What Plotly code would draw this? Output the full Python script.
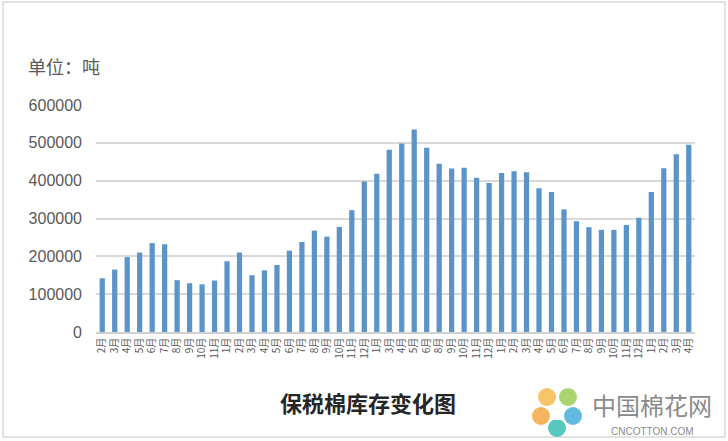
import plotly.graph_objects as go

months = ["2","3","4","5","6","7","8","9","10","11",
          "1","2","3","4","5","6","7","8","9","10","11","12",
          "1","3","4","5","6","8","9","10","11","12",
          "1","2","3","4","5","6","7","8","9","10","11","12",
          "1","2","3","4"]
tick_labels = [m + "月" for m in months]
stock = [142000, 165000, 198000, 210000, 235000, 232000, 137000, 129000, 126000, 136000,
         187000, 210000, 150000, 163000, 177000, 215000, 238000, 268000, 252000, 278000,
         322000, 398000, 418000, 482000, 498000, 535000, 487000, 445000, 432000, 434000,
         408000, 394000, 420000, 425000, 422000, 380000, 370000, 324000, 293000, 277000,
         270000, 270000, 283000, 302000, 370000, 433000, 470000, 495000]
y_ticks = [0, 100000, 200000, 300000, 400000, 500000, 600000]
unit_text = "单位：吨"
title_text = "保税棉库存变化图"

W, H = 728, 441
L, R, T, B = 96, 33, 105, 109
PW, PH = W - L - R, H - T - B

def px(x):
    return (x - L) / PW

def py(y):
    return (H - y - B) / PH

idx = list(range(len(stock)))

fig = go.Figure(go.Bar(
    x=idx, y=stock,
    marker=dict(color="#5b94c8", line=dict(width=0)),
    width=0.42,
    hoverinfo="skip",
))

gray = "#595959"
fig.update_layout(
    width=W, height=H,
    margin=dict(l=L, r=R, t=T, b=B),
    paper_bgcolor="white", plot_bgcolor="white",
    showlegend=False,
    font=dict(family="Liberation Sans, Arial, sans-serif", color=gray),
    xaxis=dict(
        range=[-0.5, len(stock) - 0.5],
        tickmode="array", tickvals=idx, ticktext=tick_labels,
        tickangle=-90,
        tickfont=dict(size=10, color=gray, family="Noto Sans CJK SC"),
        showgrid=False, zeroline=False,
        showline=True, linecolor="#d0d0d0", linewidth=1.5,
        ticks="", fixedrange=True,
    ),
    yaxis=dict(
        range=[0, 600000],
        tickmode="array", tickvals=y_ticks, ticktext=[str(v) for v in y_ticks],
        tickfont=dict(size=16, color=gray),
        showgrid=True, gridcolor="#d9d9d9", gridwidth=1.5,
        zeroline=False, showline=False, ticks="",
        ticklabelstandoff=13,
        fixedrange=True,
    ),
)

anns = [
    dict(text=unit_text, x=px(26), y=py(66), xanchor="left", yanchor="middle",
         font=dict(size=18, color=gray, family="Noto Sans CJK SC")),
    dict(text="<b>" + title_text + "</b>", x=px(368), y=py(402), xanchor="center", yanchor="middle",
         font=dict(size=22, color="#262626", family="Noto Sans CJK SC")),
    dict(text="中国棉花网", x=px(652), y=py(404), xanchor="center", yanchor="middle",
         font=dict(size=24, color="#8a8a8a", family="Noto Sans CJK SC")),
    dict(text="CNCOTTON.COM", x=px(652), y=py(431), xanchor="center", yanchor="middle",
         font=dict(size=10, color="#8a8a8a", family="Liberation Sans")),
]
for a in anns:
    a.update(xref="paper", yref="paper", showarrow=False)

shapes = [
    dict(type="rect", xref="paper", yref="paper",
         x0=px(3), x1=px(725), y0=py(437), y1=py(2),
         line=dict(color="#d9d9d9", width=1.5), fillcolor="rgba(0,0,0,0)", layer="below"),
]
# watermark logo: ring of coloured blobs
logo = [(547, 397, "#f2b134"), (568, 397, "#8cc63f"), (573, 416, "#2ea3d5"),
        (557, 428, "#1fb5a8"), (541, 416, "#f39a2b")]
for cx, cy, col in logo:
    r = 9
    shapes.append(dict(type="circle", xref="paper", yref="paper",
                       x0=px(cx - r), x1=px(cx + r), y0=py(cy + r), y1=py(cy - r),
                       fillcolor=col, opacity=0.75, line=dict(width=0)))
shapes.append(dict(type="circle", xref="paper", yref="paper",
                   x0=px(550), x1=px(564), y0=py(420), y1=py(406),
                   fillcolor="white", line=dict(width=0)))

fig.update_layout(annotations=anns, shapes=shapes)
fig.write_html("out.html",
               config={"displayModeBar": False},
               post_script="document.body.style.margin='0';document.body.style.overflow='hidden';")
